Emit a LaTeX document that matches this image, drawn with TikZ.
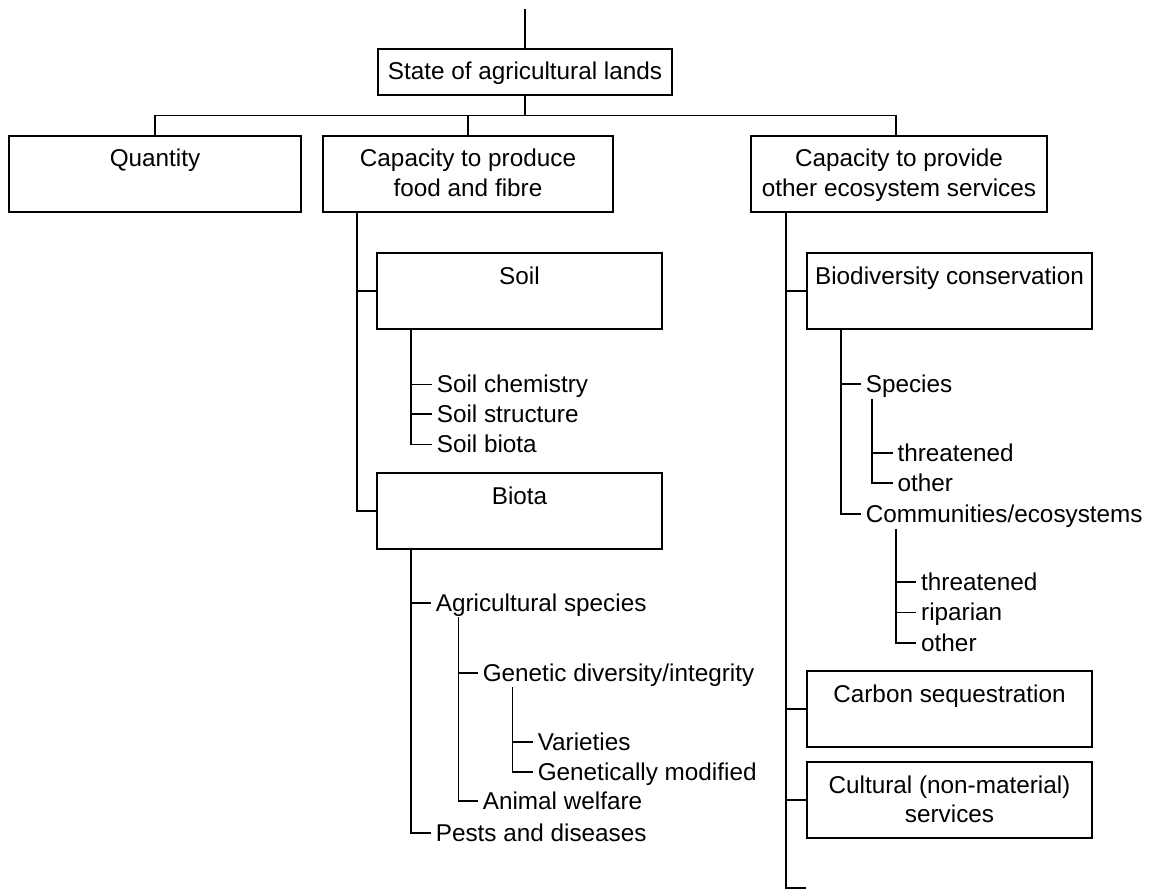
\documentclass[tikz,border=0pt]{standalone}
\usepackage{fontspec}
\setmainfont{Liberation Sans}
\usetikzlibrary{calc}
\begin{document}
\begin{tikzpicture}[x=1pt,y=-1pt,
  every node/.style={inner sep=0pt, outer sep=0pt},
  box/.style={draw, line width=1.8pt, minimum height=76pt},
  boxtext/.style={anchor=base, align=center, font=\fontsize{24.3}{29.3}\selectfont},
  item/.style={anchor=west, text height=17pt, text depth=0pt, font=\fontsize{24.3}{29.3}\selectfont},
  conn/.style={line width=1.6pt}
]
\useasboundingbox (0,0) rectangle (1155,893);

% ---- top level ----
\coordinate (top) at (525,9);
\node[box, minimum width=294pt, minimum height=46pt] (state) at (525,72) {};
\node[boxtext] (stateT) at ([yshift=-31pt]state.north) {State of agricultural lands};

\node[box, minimum width=292pt] (qty)  at (155,174) {};
\node[box, minimum width=290pt] (prod) at (468,174) {};
\node[box, minimum width=296pt] (prov) at (899,174) {};
% one-line texts sit on their first baseline, two-line texts on the last one
\node[boxtext] (qtyT)  at ([yshift=-31pt]qty.north)    {Quantity};
\node[boxtext] (prodT) at ([yshift=-60.3pt]prod.north) {Capacity to produce\\food and fibre};
\node[boxtext] (provT) at ([yshift=-60.3pt]prov.north) {Capacity to provide\\other ecosystem services};

\coordinate (bus) at (0,115.5);
\draw[conn] (top) -- (state.north);
\draw[conn] (state.south) -- (state.south |- bus);
\draw[conn] (qty.north) |- ([xshift=-3pt]prov.north |- bus) -- ([xshift=-3pt]prov.north);
\draw[conn] (prod.north) -- (prod.north |- bus);

% ---- food and fibre branch ----
\node[box, minimum width=285pt] (soil)  at (519.5,291) {};
\node[box, minimum width=285pt] (biota) at (519.5,511) {};
\node[boxtext] (soilT)  at ([yshift=-31pt]soil.north)  {Soil};
\node[boxtext] (biotaT) at ([yshift=-31pt]biota.north) {Biota};

\coordinate (lT) at ([xshift=34pt]prod.south west);
\draw[conn] (lT) |- (biota.west);
\draw[conn] (lT |- soil.west) -- (soil.west);

\node[item] (sc) at (436.8,384.3) {Soil chemistry};
\node[item] (ss) at (436.8,413.7) {Soil structure};
\node[item] (sb) at (436.8,444.3) {Soil biota};
\coordinate (soilTr) at ([xshift=34pt]soil.south west);
\draw[conn] (soilTr) |- ([xshift=-5pt]sb.west);
\draw[conn] (soilTr |- sc.west) -- ([xshift=-5pt]sc.west);
\draw[conn] (soilTr |- ss.west) -- ([xshift=-5pt]ss.west);

\node[item] (ag) at (435.8,602.7) {Agricultural species};
\node[item] (pd) at (435.8,832.7) {Pests and diseases};
\coordinate (bT) at ([xshift=34pt]biota.south west);
\draw[conn] (bT) |- ([xshift=-5pt]pd.west);
\draw[conn] (bT |- ag.west) -- ([xshift=-5pt]ag.west);

\node[item] (gd) at (482.8,672.7) {Genetic diversity/integrity};
\node[item] (aw) at (482.8,800.7) {Animal welfare};
\coordinate (agT) at ([xshift=22.5pt,yshift=-6pt]ag.south west);
\draw[conn] (agT) |- ([xshift=-5pt]aw.west);
\draw[conn] (agT |- gd.west) -- ([xshift=-5pt]gd.west);

\node[item] (va) at (537.8,741.7) {Varieties};
\node[item] (gm) at (537.8,772) {Genetically modified};
\coordinate (gdT) at ([xshift=29.5pt,yshift=-6pt]gd.south west);
\draw[conn] (gdT) |- ([xshift=-5pt]gm.west);
\draw[conn] (gdT |- va.west) -- ([xshift=-5pt]va.west);

% ---- other ecosystem services branch ----
\node[box, minimum width=285pt] (biodiv)   at (949.5,291) {};
\node[box, minimum width=285pt] (carbon)   at (949.5,709) {};
\node[box, minimum width=285pt] (cultural) at (949.5,800) {};
\node[boxtext] (biodivT)   at ([yshift=-31pt]biodiv.north)     {Biodiversity conservation};
\node[boxtext] (carbonT)   at ([yshift=-31pt]carbon.north)     {Carbon sequestration};
\node[boxtext] (culturalT) at ([yshift=-60.3pt]cultural.north) {Cultural (non-material)\\services};

\coordinate (rT) at ([xshift=35pt]prov.south west);
\coordinate (rEnd) at (806,888);
\draw[conn] (rT) |- (rEnd);
\draw[conn] (rT |- biodiv.west) -- (biodiv.west);
\draw[conn] (rT |- carbon.west) -- (carbon.west);
\draw[conn] (rT |- cultural.west) -- (cultural.west);

\node[item] (sp) at (865.8,384) {Species};
\node[item] (ce) at (865.8,514) {Communities/ecosystems};
\coordinate (bdT) at ([xshift=34pt]biodiv.south west);
\draw[conn] (bdT) |- ([xshift=-5pt]ce.west);
\draw[conn] (bdT |- sp.west) -- ([xshift=-5pt]sp.west);

\node[item] (t1) at (897.5,452.7) {threatened};
\node[item] (o1) at (897.5,482.7) {other};
\coordinate (spT) at ([xshift=6.2pt,yshift=-6pt]sp.south west);
\draw[conn] (spT) |- ([xshift=-5pt]o1.west);
\draw[conn] (spT |- t1.west) -- ([xshift=-5pt]t1.west);

\node[item] (t2) at (921.2,581.7) {threatened};
\node[item] (ri) at (921.2,612.3) {riparian};
\node[item] (o2) at (921.2,642.7) {other};
\coordinate (ceT) at ([xshift=29.9pt,yshift=-6pt]ce.south west);
\draw[conn] (ceT) |- ([xshift=-5pt]o2.west);
\draw[conn] (ceT |- t2.west) -- ([xshift=-5pt]t2.west);
\draw[conn] (ceT |- ri.west) -- ([xshift=-5pt]ri.west);
\end{tikzpicture}
\end{document}
